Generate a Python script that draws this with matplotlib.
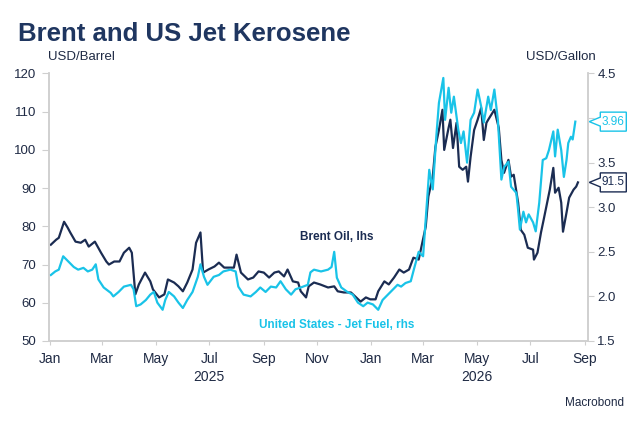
import matplotlib
matplotlib.use("Agg")
import matplotlib.pyplot as plt
import matplotlib.dates as mdates
from matplotlib.patches import Polygon
from matplotlib.transforms import IdentityTransform
import pandas as pd

plt.rcParams['font.family'] = ['Liberation Sans', 'DejaVu Sans']

# Brent crude, USD/barrel (left axis)
brent_dates = [
    "2025-01-02", "2025-01-08", "2025-01-11", "2025-01-17", "2025-01-21", "2025-01-24", "2025-01-30",
    "2025-02-05", "2025-02-10", "2025-02-14", "2025-02-21", "2025-02-28",
    "2025-03-06", "2025-03-09", "2025-03-15", "2025-03-21", "2025-03-26",
    "2025-04-01", "2025-04-04", "2025-04-08", "2025-04-12", "2025-04-19", "2025-04-25", "2025-04-28",
    "2025-05-05", "2025-05-11", "2025-05-15", "2025-05-22", "2025-05-27",
    "2025-06-01", "2025-06-06", "2025-06-12", "2025-06-16", "2025-06-21", "2025-06-24", "2025-06-30",
    "2025-07-07", "2025-07-12", "2025-07-18", "2025-07-23", "2025-07-29",
    "2025-08-01", "2025-08-06", "2025-08-14", "2025-08-20", "2025-08-26",
    "2025-09-01", "2025-09-07", "2025-09-13", "2025-09-18", "2025-09-24", "2025-09-28",
    "2025-10-04", "2025-10-10", "2025-10-13", "2025-10-19", "2025-10-22", "2025-10-28",
    "2025-11-04", "2025-11-13", "2025-11-20", "2025-11-24",
    "2025-12-01", "2025-12-09", "2025-12-15", "2025-12-20", "2025-12-26", "2025-12-31",
    "2026-01-06", "2026-01-09", "2026-01-16", "2026-01-21", "2026-01-27",
    "2026-02-02", "2026-02-07", "2026-02-13", "2026-02-18", "2026-02-24",
    "2026-03-04", "2026-03-07", "2026-03-12", "2026-03-15", "2026-03-19", "2026-03-23", "2026-03-25", "2026-03-30",
    "2026-04-01", "2026-04-04", "2026-04-08", "2026-04-11", "2026-04-15", "2026-04-19", "2026-04-21", "2026-04-24", "2026-04-28",
    "2026-05-02", "2026-05-06", "2026-05-09", "2026-05-12", "2026-05-14", "2026-05-21", "2026-05-26", "2026-05-29",
    "2026-06-01", "2026-06-06", "2026-06-09", "2026-06-12", "2026-06-17", "2026-06-20", "2026-06-24", "2026-06-28",
    "2026-07-04", "2026-07-05", "2026-07-09", "2026-07-13", "2026-07-16", "2026-07-23", "2026-07-27", "2026-07-29",
    "2026-08-02", "2026-08-05", "2026-08-07", "2026-08-11", "2026-08-14", "2026-08-19", "2026-08-22", "2026-08-24",
]
brent_usd_bbl = [
    75.2, 76.5, 77.0, 81.2, 79.7, 78.4, 76.0,
    75.7, 76.5, 74.7, 76.0, 73.1,
    70.8, 70.0, 70.8, 70.8, 73.1,
    74.4, 73.1, 62.2, 64.8, 67.9, 65.6, 63.5,
    61.4, 62.2, 66.1, 65.3, 64.3,
    63.0, 65.3, 68.7, 75.7, 78.4, 67.9, 68.7,
    69.5, 70.5, 69.2, 69.2, 69.2,
    72.6, 67.9, 66.1, 66.6, 68.2,
    67.9, 66.6, 67.9, 68.2, 66.9, 68.7,
    65.6, 65.3, 63.0, 61.4, 64.3, 65.3,
    64.8, 64.0, 64.3, 63.0,
    62.7, 62.7, 61.4, 60.3, 61.4, 60.9,
    60.9, 63.0, 65.6, 64.8, 66.6,
    68.7, 67.9, 68.7, 71.8, 71.3,
    79.9, 87.8, 93.0, 100.8, 105.2, 110.5, 100.0, 105.8,
    107.9, 100.5, 107.1, 95.6, 94.8, 95.6, 91.7, 98.2, 105.2,
    107.9, 111.0, 102.6, 107.1, 107.9, 110.5, 105.8, 97.4,
    94.0, 97.4, 93.0, 93.5, 86.2, 79.1, 77.8, 74.4,
    73.9, 71.3, 73.1, 78.4, 81.7, 89.6, 95.3, 88.8,
    90.1, 86.2, 78.6, 83.6, 87.5, 89.6, 90.4, 91.5,
]

# US jet fuel, USD/gallon (right axis)
jet_dates = [
    "2025-01-02", "2025-01-07", "2025-01-11", "2025-01-16", "2025-01-22", "2025-01-28",
    "2025-02-02", "2025-02-08", "2025-02-13", "2025-02-18", "2025-02-22", "2025-02-25",
    "2025-03-03", "2025-03-11", "2025-03-14", "2025-03-20", "2025-03-26",
    "2025-04-03", "2025-04-06", "2025-04-09", "2025-04-14", "2025-04-20", "2025-04-25", "2025-04-29",
    "2025-05-03", "2025-05-09", "2025-05-12", "2025-05-16", "2025-05-22", "2025-05-27",
    "2025-06-01", "2025-06-06", "2025-06-12", "2025-06-18", "2025-06-21", "2025-06-25", "2025-06-29",
    "2025-07-06", "2025-07-12", "2025-07-17", "2025-07-25", "2025-07-31",
    "2025-08-03", "2025-08-09", "2025-08-17", "2025-08-23", "2025-08-28",
    "2025-09-03", "2025-09-09", "2025-09-15", "2025-09-20", "2025-09-26",
    "2025-10-02", "2025-10-07", "2025-10-13", "2025-10-21", "2025-10-24", "2025-10-28",
    "2025-11-05", "2025-11-13", "2025-11-17", "2025-11-20", "2025-11-23", "2025-11-28",
    "2025-12-05", "2025-12-11", "2025-12-17", "2025-12-23", "2025-12-28",
    "2026-01-03", "2026-01-09", "2026-01-14", "2026-01-20", "2026-01-26", "2026-01-31",
    "2026-02-04", "2026-02-09", "2026-02-15", "2026-02-19", "2026-02-24",
    "2026-03-01", "2026-03-04", "2026-03-08", "2026-03-12", "2026-03-16", "2026-03-19", "2026-03-24", "2026-03-26", "2026-03-30",
    "2026-04-02", "2026-04-05", "2026-04-10", "2026-04-13", "2026-04-16", "2026-04-20", "2026-04-24", "2026-04-28",
    "2026-05-02", "2026-05-06", "2026-05-09", "2026-05-14", "2026-05-17", "2026-05-21", "2026-05-25", "2026-05-29",
    "2026-06-01", "2026-06-06", "2026-06-09", "2026-06-15", "2026-06-17", "2026-06-19", "2026-06-23", "2026-06-26", "2026-06-29",
    "2026-07-04", "2026-07-07", "2026-07-11", "2026-07-15", "2026-07-19", "2026-07-22", "2026-07-27", "2026-07-29",
    "2026-08-01", "2026-08-05", "2026-08-08", "2026-08-11", "2026-08-13", "2026-08-16", "2026-08-18", "2026-08-21",
]
jet_usd_gal = [
    2.24, 2.28, 2.30, 2.45, 2.39, 2.33,
    2.30, 2.32, 2.28, 2.30, 2.36, 2.19,
    2.10, 2.04, 2.00, 2.05, 2.11,
    2.13, 2.08, 1.89, 1.91, 1.96, 2.02, 2.05,
    1.93, 1.85, 1.96, 2.05, 2.00, 1.93,
    1.87, 1.96, 2.05, 2.22, 2.36, 2.22, 2.13,
    2.22, 2.24, 2.28, 2.30, 2.28,
    2.11, 2.02, 2.00, 2.05, 2.10,
    2.05, 2.11, 2.10, 2.17, 2.08,
    2.02, 2.08, 2.10, 2.13, 2.27, 2.30,
    2.28, 2.30, 2.33, 2.50, 2.21, 2.10,
    2.05, 2.02, 1.93, 1.89, 1.93,
    1.91, 1.85, 1.96, 2.02, 2.08, 2.13,
    2.11, 2.15, 2.17, 2.32, 2.50,
    2.45, 2.86, 3.42, 3.20, 3.79, 4.17, 4.45, 3.98, 4.34,
    4.06, 4.24, 3.87, 3.72, 3.85, 3.50, 3.98, 4.06,
    4.32, 4.13, 3.95, 4.24, 4.09, 4.32, 3.98, 3.31,
    3.45, 3.51, 3.23, 3.16, 2.97, 2.75, 2.95, 2.83, 2.92,
    2.83, 2.73, 3.05, 3.53, 3.55, 3.64, 3.85, 3.57,
    3.87, 3.64, 3.34, 3.53, 3.72, 3.79, 3.76, 3.96,
]

left_ticks = [50, 60, 70, 80, 90, 100, 110, 120]
right_ticks = [1.5, 2.0, 2.5, 3.0, 3.5, 4.0, 4.5]
year_labels = [("2025", "2025-07-01"), ("2026", "2026-05-01")]

NAVY = "#1b2c52"
CYAN = "#19c3e8"
TEXT = "#1f2a44"
AXIS = "#cfcfcf"

fig = plt.figure(figsize=(6.44, 4.28), dpi=100)
ax = fig.add_axes([0.0766, 0.2033, 0.8369, 0.625])
ax2 = ax.twinx()

bd = pd.to_datetime(brent_dates)
jd = pd.to_datetime(jet_dates)

ax.plot(bd, brent_usd_bbl, color=NAVY, lw=1.6, solid_joinstyle="round")
ax2.plot(jd, jet_usd_gal, color=CYAN, lw=1.6, solid_joinstyle="round")

ax.set_xlim(pd.Timestamp("2024-12-31 06:00"), pd.Timestamp("2026-09-04 18:00"))
ax.set_ylim(50, 120)
ax2.set_ylim(1.5, 4.5)

ax.set_yticks(left_ticks)
ax.set_yticklabels([str(t) for t in left_ticks])
# the last-value tag hides the 4.0 label, as in the original
ax2.set_yticks(right_ticks)
ax2.set_yticklabels(["" if abs(t - 4.0) < 1e-9 else f"{t:.1f}" for t in right_ticks])

ax.xaxis.set_major_locator(mdates.MonthLocator(bymonth=[1, 3, 5, 7, 9, 11]))
ax.xaxis.set_major_formatter(mdates.DateFormatter("%b"))

for a in (ax, ax2):
    a.spines["top"].set_visible(False)
    for s in ("left", "right", "bottom"):
        a.spines[s].set_color(AXIS)
        a.spines[s].set_linewidth(1.1)
    a.set_facecolor("none")

ax.tick_params(axis="y", length=4.7, width=0.8, color=AXIS, pad=4.5,
               labelsize=9.5, labelcolor=TEXT)
ax2.tick_params(axis="y", length=4.5, width=0.8, color=AXIS, pad=2,
                labelsize=9.5, labelcolor=TEXT)
ax.tick_params(axis="x", length=3, width=0.8, color=AXIS, pad=5,
               labelsize=10, labelcolor=TEXT)

for label, d in year_labels:
    ax.text(pd.Timestamp(d), -0.133, label, transform=ax.get_xaxis_transform(),
            ha="center", va="center", fontsize=10, color=TEXT)

# series labels inside the plot
ax.text(0.534, 0.389, "Brent Oil, lhs", transform=ax.transAxes, ha="center",
        va="center", fontsize=8.5, fontweight="bold", color=NAVY)
ax.text(0.534, 0.06, "United States - Jet Fuel, rhs", transform=ax.transAxes,
        ha="center", va="center", fontsize=8.5, fontweight="bold", color=CYAN)

# title and units
fig.text(18 / 644, 1 - 41 / 428, "Brent and US Jet Kerosene", ha="left",
         va="baseline", fontsize=18.5, fontweight="bold", color="#1f3660")
fig.text(48 / 644, 1 - 57 / 428, "USD/Barrel", ha="left", va="center",
         fontsize=9.5, color=TEXT)
fig.text(596 / 644, 1 - 57 / 428, "USD/Gallon", ha="right", va="center",
         fontsize=9.5, color=TEXT)
fig.text(624 / 644, 1 - 403 / 428, "Macrobond", ha="right", va="center",
         fontsize=8.5, color=TEXT)


def last_value_tag(axis, value, text, color):
    # arrow-shaped tag pointing at the right axis
    tx, ty = axis.get_yaxis_transform().transform((1.0, value))
    tx += 1
    shape = [(0, 0), (11, 4.5), (11, 9.5), (37, 9.5), (37, -9.5), (11, -9.5), (11, -4.5)]
    pts = [(tx + dx, ty + dy) for dx, dy in shape]
    fig.add_artist(Polygon(pts, closed=True, facecolor="white", edgecolor=color,
                           lw=1.0, transform=IdentityTransform(), clip_on=False))
    fig.text((tx + 24) / 644, ty / 428, text, ha="center", va="center",
             fontsize=8.5, color=color)


last_value_tag(ax2, jet_usd_gal[-1], f"{jet_usd_gal[-1]:.2f}", CYAN)
last_value_tag(ax, brent_usd_bbl[-1], f"{brent_usd_bbl[-1]:.1f}", NAVY)

fig.savefig("out.png", dpi=100)
